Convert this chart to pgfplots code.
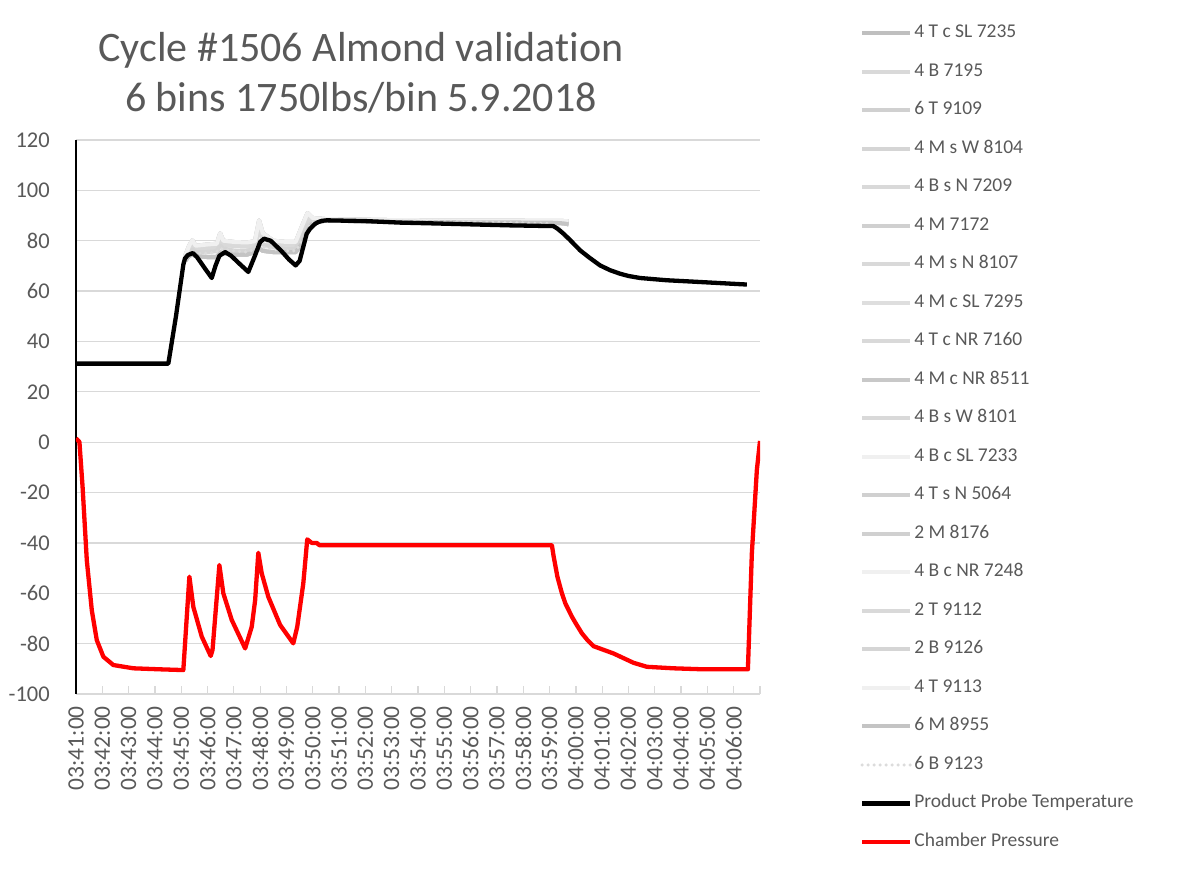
\documentclass[border=0pt]{standalone}
\usepackage{pgfplots}
\usepackage{pgfplotstable}
\pgfplotsset{compat=1.18}
\usepackage{fontspec}
\setmainfont{Carlito}[Ligatures=NoCommon, Contextuals=NoAlternate]
\definecolor{txt}{HTML}{595959}
\definecolor{grd}{HTML}{D9D9D9}
\definecolor{gA}{HTML}{BFBFBF}
\definecolor{gB}{HTML}{D9D9D9}
\definecolor{gC}{HTML}{D0D0D0}
\definecolor{gD}{HTML}{D5D5D5}
\definecolor{gE}{HTML}{DEDEDE}
\definecolor{gF}{HTML}{C8C8C8}
\definecolor{gL}{HTML}{F0F0F0}
\definecolor{gG}{HTML}{C4C4C4}
\definecolor{gH}{HTML}{DCDCDC}

\pgfplotstableread{
t A B C D E
4.15 74 73 72.5 72 72.5
4.30 78 76 75 74 74.5
4.42 80.2 78 76.5 74.5 75.5
4.55 78 77 75.5 74 75
5.00 78.5 77 75.5 73.5 75
5.35 78.8 77.5 76 73.5 75.5
5.48 83 80 78 75.5 77
5.60 80 78.5 77 75 76.5
6.00 79.5 78 76 74.5 76
6.50 79.3 77.8 76 74.5 75.5
6.80 79.8 78.5 77 75.5 76.5
6.96 88.1 84 80 77 79
7.10 83 81 78.5 76 77.5
7.50 80 79 77.5 75.5 76.5
8.00 79.5 78.5 76.8 75.5 76
8.35 79.5 78.5 77 75.5 76
8.60 86 83 81 79 80
8.80 91 88.5 86 84 85
9.00 89 88.5 87.5 87 87.5
9.50 88.6 88.5 88.3 88 88.3
12.0 88.2 88 87.8 87.5 87.8
15.0 88 87.8 87.6 87.3 87.6
18.0 87.9 87.7 87.4 87.2 86.8
18.40 87.9 87.7 87.4 87.0 84.5
18.60 87.8 87.6 87.2 86.8 81.5
18.72 87.7 87.5 87.0 86.5 81.0
}\graytab

\pgfplotstableread{
t v
0 31.2
3.51 31.2
3.80 50
4.08 70.5
4.14 72.9
4.25 74.3
4.44 75.1
4.60 73.5
4.90 69
5.16 65.2
5.30 70
5.45 74
5.67 75.5
5.90 74
6.20 71
6.55 67.6
6.80 74
7.00 79.5
7.15 80.8
7.40 80
7.80 76
8.10 72.5
8.35 70.2
8.50 72
8.77 82.8
8.90 84.8
9.00 85.8
9.10 86.8
9.21 87.4
9.35 87.9
9.53 88.1
11.0 87.8
12.3 87.2
13.5 86.9
15.0 86.5
16.5 86.1
18.15 85.8
18.30 84.8
18.53 82.8
18.75 80.6
19.16 76.2
19.50 73.4
19.92 70.2
20.30 68.3
20.68 66.9
21.00 66.0
21.44 65.2
22.00 64.7
22.46 64.3
23.73 63.6
25.50 62.6
}\probetab

\pgfplotstableread{
t v
0 1.5
0.13 0.1
0.25 -17.7
0.41 -46.8
0.60 -66.7
0.79 -78.6
1.04 -85.2
1.42 -88.5
2.18 -89.8
3.19 -90.2
4.08 -90.5
4.31 -53.4
4.46 -65.4
4.78 -77.2
5.12 -84.9
5.19 -82.5
5.45 -48.8
5.60 -60
5.92 -70.6
6.43 -81.9
6.68 -73.3
6.81 -62.7
6.93 -43.9
7.06 -52.1
7.31 -61.4
7.76 -72.6
8.26 -79.9
8.41 -73.3
8.64 -56.1
8.79 -38.6
8.96 -40
9.15 -40
9.25 -40.9
18.09 -40.9
18.15 -45.0
18.30 -53.5
18.47 -60
18.60 -64.0
18.85 -69.3
19.00 -72.0
19.23 -75.9
19.45 -78.7
19.67 -81
20.43 -83.9
21.19 -87.6
21.70 -89.2
22.71 -89.8
23.85 -90.2
25.54 -90.2
25.69 -44.2
25.88 -11.1
26.00 0.5
}\prestab

\begin{document}
\begin{tikzpicture}
\path[use as bounding box] (-76pt,-178pt) rectangle (1121pt,694pt);
\begin{axis}[
  scale only axis, width=684pt, height=554pt,
  at={(0pt,0pt)}, anchor=south west,
  xmin=0, xmax=26, ymin=-100, ymax=120,
  axis x line*=bottom, axis y line*=left,
  x axis line style={grd, line width=1.5pt, -},
  y axis line style={black, line width=1.5pt, -},
  ytick={-100,-80,...,120},
  yticklabels={-100,-80,-60,-40,-20,0,20,40,60,80,100,120},
  ymajorgrids, grid style={grd, line width=1.3pt},
  xtick={0,...,26},
  xticklabels={03:41:00,03:42:00,03:43:00,03:44:00,03:45:00,03:46:00,03:47:00,03:48:00,03:49:00,03:50:00,03:51:00,03:52:00,03:53:00,03:54:00,03:55:00,03:56:00,03:57:00,03:58:00,03:59:00,04:00:00,04:01:00,04:02:00,04:03:00,04:04:00,04:05:00,04:06:00,{}},
  tick align=inside,
  major tick length=8pt,
  xtick style={grd, line width=1.3pt},
  ytick style={draw=none},
  xticklabel style={rotate=90, anchor=east, inner xsep=12pt, inner ysep=0pt, font=\fontsize{23.5}{27}\selectfont, text=txt},
  yticklabel style={anchor=east, inner xsep=26pt, inner ysep=0pt, font=\fontsize{22.5}{26}\selectfont, text=txt},
  legend style={at={(1.146,1.208)}, anchor=north west, draw=none, fill=none, inner sep=0pt,
    row sep=21.5pt, font=\fontsize{19.5}{22}\selectfont, text=txt,
    nodes={inner xsep=2pt, inner ysep=0pt, text height=13pt, text depth=4pt}},
  legend cell align=left,
  legend image code/.code={\draw[#1] (0pt,0pt) -- (48pt,0pt);},
  every axis plot/.append style={line join=round},
]
\addplot[gA, line width=4pt] table[x=t,y=C] {\graytab};
\addlegendentry{4 T c SL 7235}
\addplot[gB, line width=4pt] table[x=t,y=B] {\graytab};
\addlegendentry{4 B 7195}
\addplot[gC, line width=4pt] table[x=t,y=A] {\graytab};
\addlegendentry{6 T 9109}
\addplot[gD, line width=4pt] table[x=t,y=D] {\graytab};
\addlegendentry{4 M s W 8104}
\addplot[gB, line width=4pt] table[x=t,y=C] {\graytab};
\addlegendentry{4 B s N 7209}
\addplot[gC, line width=4pt] table[x=t,y=B] {\graytab};
\addlegendentry{4 M 7172}
\addplot[gB, line width=4pt] table[x=t,y=D] {\graytab};
\addlegendentry{4 M s N 8107}
\addplot[gE, line width=4pt] table[x=t,y=A] {\graytab};
\addlegendentry{4 M c SL 7295}
\addplot[gB, line width=4pt] table[x=t,y=E] {\graytab};
\addlegendentry{4 T c NR 7160}
\addplot[gF, line width=4pt] table[x=t,y=D] {\graytab};
\addlegendentry{4 M c NR 8511}
\addplot[gB, line width=4pt] table[x=t,y=B] {\graytab};
\addlegendentry{4 B s W 8101}
\addplot[gL, line width=4pt] table[x=t,y=C] {\graytab};
\addlegendentry{4 B c SL 7233}
\addplot[gC, line width=4pt] table[x=t,y=A] {\graytab};
\addlegendentry{4 T s N 5064}
\addplot[gC, line width=4pt] table[x=t,y=D] {\graytab};
\addlegendentry{2 M 8176}
\addplot[gL, line width=4pt] table[x=t,y=E] {\graytab};
\addlegendentry{4 B c NR 7248}
\addplot[gB, line width=4pt] table[x=t,y=B] {\graytab};
\addlegendentry{2 T 9112}
\addplot[gD, line width=4pt] table[x=t,y=C] {\graytab};
\addlegendentry{2 B 9126}
\addplot[gL, line width=4pt] table[x=t,y=A] {\graytab};
\addlegendentry{4 T 9113}
\addplot[gG, line width=4pt] table[x=t,y=D] {\graytab};
\addlegendentry{6 M  8955}
\addplot[gH, line width=3.5pt, line cap=round, dash pattern=on 0pt off 6pt] table[x=t,y=E] {\graytab};
\addlegendentry{6 B 9123}
\addplot[black, line width=4.3pt] table[x=t,y=v] {\probetab};
\addlegendentry{Product Probe Temperature}
\addplot[red, line width=4.3pt] table[x=t,y=v] {\prestab};
\addlegendentry{Chamber Pressure}
\end{axis}
\node[align=center, font=\fontsize{42}{50}\selectfont, text=txt] at (285pt,621pt)
  {Cycle \#1506 Almond validation\\6 bins 1750lbs/bin 5.9.2018};
\end{tikzpicture}
\end{document}
